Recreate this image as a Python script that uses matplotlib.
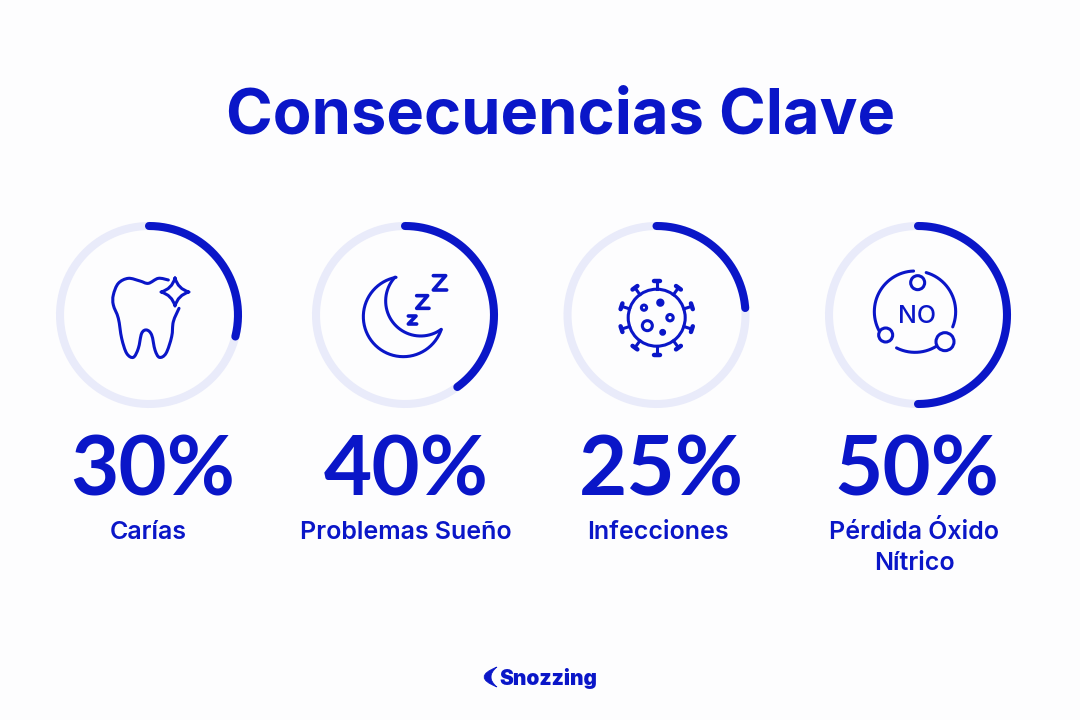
import numpy as np
import matplotlib
matplotlib.use("Agg")
import matplotlib.pyplot as plt
from matplotlib.path import Path
from matplotlib.patches import PathPatch, Circle

values = [30, 40, 25, 50]
pct_labels = ["30%", "40%", "25%", "50%"]
names = ["Carías", "Problemas Sueño", "Infecciones", "Pérdida Óxido\nNítrico"]
title = "Consecuencias Clave"
brand = "Snozzing"

BLUE = "#0a16c8"
TRACK = "#e9ebfa"
BG = "#fdfdfe"
FONT = "Inter"

ring_x = [149, 405, 656.5, 918]
ring_y = 315
ring_r = 89
arc_trim = [4, 0, 4.5, 0]  # the round caps eat a bit of the arc in the original
pct_x = [153, 406, 661.5, 917]
name_x = [148, 406, 658, 914]

plt.rcParams["font.family"] = [FONT, "DejaVu Sans"]
fig = plt.figure(figsize=(10.8, 7.2), dpi=100, facecolor=BG)
ax = fig.add_axes([0, 0, 1, 1])
ax.set_xlim(0, 1080)
ax.set_ylim(720, 0)
ax.axis("off")


def smooth(points):
    # catmull-rom through the points, as a bezier path
    p = np.array(points, dtype=float)
    verts = [p[0]]
    codes = [Path.MOVETO]
    for i in range(len(p) - 1):
        p0 = p[i - 1] if i > 0 else p[i]
        p1 = p[i]
        p2 = p[i + 1]
        p3 = p[i + 2] if i + 2 < len(p) else p[i + 1]
        verts += [p1 + (p2 - p0) / 6, p2 - (p3 - p1) / 6, p2]
        codes += [Path.CURVE4] * 3
    return Path(verts, codes)


def zoomed(points, ox, oy):
    return [(ox + a / 3, oy + b / 3) for a, b in points]


def stroke(path, lw=2.2):
    ax.add_patch(PathPatch(path, fc="none", ec=BLUE, lw=lw, capstyle="round", joinstyle="round"))


def arc(cx, cy, r, start, end, **kw):
    t = np.radians(np.linspace(start, end, 200))
    ax.plot(cx + r * np.sin(t), cy - r * np.cos(t), **kw)


# rings
for cx, val, trim in zip(ring_x, values, arc_trim):
    arc(cx, ring_y, ring_r, 0, 360, color=TRACK, lw=5.8, solid_capstyle="butt")
    arc(cx, ring_y, ring_r, 0, val * 3.6 - trim, color=BLUE, lw=5.8, solid_capstyle="round")

# tooth
tooth = [(235, 45), (205, 40), (175, 55), (150, 48), (115, 40), (85, 55), (70, 90), (70, 120),
         (85, 160), (95, 220), (110, 265), (130, 277), (145, 250), (155, 205), (170, 195),
         (185, 210), (195, 255), (208, 277), (228, 265), (245, 215), (250, 170), (267, 130)]
stroke(smooth(zoomed(tooth, 90, 265)))
sx, sy = 175, 292
star = [(sx, sy - 14), (sx + 3, sy - 3), (sx + 14, sy), (sx + 3, sy + 3), (sx, sy + 14), (sx - 3, sy + 3),
        (sx - 14, sy), (sx - 3, sy - 3), (sx, sy - 14)]
stroke(Path(star, [Path.MOVETO] + [Path.CURVE3] * 8))

# moon, two circles meeting at the tips
mx, my = 350 + 160 / 3, 265 + 155 / 3
arc(mx, my, 40, -10.5, -251, color=BLUE, lw=2.2, solid_capstyle="round")
ix, iy = 350 + 212 / 3, 265 + 108 / 3
arc(ix, iy, 35, 144, 313, color=BLUE, lw=2.2, solid_capstyle="round")
for z in ([(250, 32), (287, 32), (250, 75), (290, 75)],
          [(200, 92), (233, 92), (200, 130), (237, 130)],
          [(175, 153), (198, 153), (175, 177), (200, 177)]):
    pts = zoomed(z, 350, 265)
    stroke(Path(pts, [Path.MOVETO] + [Path.LINETO] * 3), lw=2.6)

# virus
vx, vy = 656.7, 317.7
ax.add_patch(Circle((vx, vy), 28.5, fc="none", ec=BLUE, lw=2.2))
for deg in range(0, 360, 36):
    s, c = np.sin(np.radians(deg)), np.cos(np.radians(deg))
    ax.plot([vx + 28.5 * s, vx + 37 * s], [vy - 28.5 * c, vy - 37 * c], color=BLUE, lw=2.2)
    ax.plot([vx + 37 * s - 3 * c, vx + 37 * s + 3 * c], [vy - 37 * c - 3 * s, vy - 37 * c + 3 * s],
            color=BLUE, lw=3.2, solid_capstyle="round")
for a, b, r, filled in [(117, 113, 2.6, False), (166, 98, 2.6, True), (195, 143, 3.2, False),
                        (127, 167, 5.0, False), (173, 187, 1.9, True)]:
    ax.add_patch(Circle((605 + a / 3, 270 + b / 3), r, fc=BLUE if filled else "none", ec=BLUE, lw=2.2))

# NO molecule
nx, ny = 865 + 150 / 3, 265 + 140 / 3
nr = 122 / 3
arc(nx, ny, nr, -2, -135, color=BLUE, lw=2.2, solid_capstyle="round")
arc(nx, ny, nr, 16, 112, color=BLUE, lw=2.2, solid_capstyle="round")
arc(nx, ny, nr, 148, 207, color=BLUE, lw=2.2, solid_capstyle="round")
for a, b, r in [(158, 53, 7), (62, 210, 7), (240, 230, 9)]:
    ax.add_patch(Circle((865 + a / 3, 265 + b / 3), r, fc=BG, ec=BLUE, lw=2.2, zorder=3))
ax.text(917, 323, "NO", color=BLUE, fontsize=18, ha="center", va="baseline", fontweight="medium")

# texts
ax.text(561, 133, title, color=BLUE, fontsize=45.5, fontweight="bold", ha="center", va="baseline")
for x, t in zip(pct_x, pct_labels):
    ax.text(x, 496, t, color=BLUE, fontsize=60, fontweight="bold", ha="center", va="baseline", family=["Lato", "DejaVu Sans"])
for x, t in zip(name_x, names):
    for i, line in enumerate(t.split("\n")):
        ax.text(x, 539 + 31 * i, line, color=BLUE, fontsize=18, fontweight="semibold", ha="center", va="baseline")

# logo
ax.text(548.5, 685, brand, color=BLUE, fontsize=15, fontweight="black", ha="center", va="baseline")
crescent = [(497, 667), (471, 677), (497, 687), (485, 677), (497, 667)]
ax.add_patch(PathPatch(Path(crescent, [Path.MOVETO] + [Path.CURVE3] * 4), fc=BLUE, ec=BLUE, lw=0.5))

fig.savefig("out.png", dpi=100, facecolor=BG)
